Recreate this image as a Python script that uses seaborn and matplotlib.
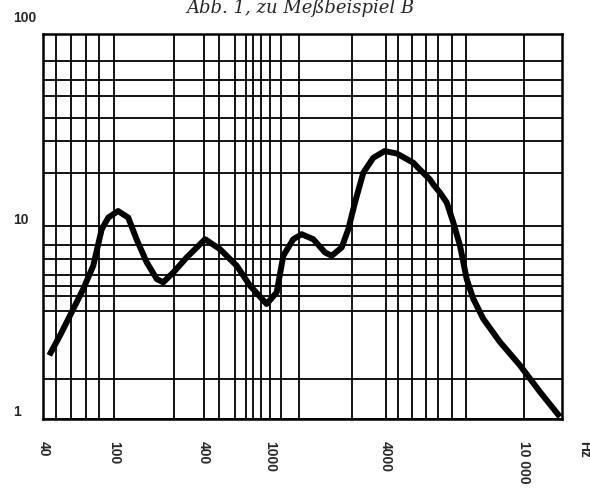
import numpy as np
import matplotlib
matplotlib.use("Agg")
import matplotlib.pyplot as plt
import seaborn as sns
from matplotlib.ticker import FixedLocator, NullFormatter
from matplotlib.transforms import ScaledTranslation

# ---- data ----
freq_hz = [43.2, 49.6, 57.7, 67.0, 76.2, 85.0, 92.6, 106, 124, 141, 165, 193, 213,
           249, 306, 406, 499, 629, 755, 951, 1080, 1169, 1318, 1458, 1676, 1929,
           2091, 2358, 2552, 2766, 3057, 3446, 3950, 4304, 4800, 5016, 5362, 5478,
           5727, 5987, 6255, 6539, 6834, 7139, 7624, 8514, 9717, 11094, 12660]
level = [2.13, 2.70, 3.57, 4.72, 6.23, 9.65, 11.1, 12.0, 11.1, 8.56, 6.49, 5.31, 5.11,
         5.75, 6.88, 8.56, 7.60, 6.23, 4.91, 3.94, 4.53, 7.02, 8.56, 9.09, 8.56, 7.31,
         7.02, 7.76, 9.65, 13.3, 19.0, 22.7, 24.6, 23.9, 21.4, 19.7, 17.5, 16.5,
         14.95, 13.3, 10.45, 7.91, 5.31, 4.19, 3.30, 2.50, 1.89, 1.375, 1.02]

x_tick_values = [40, 100, 400, 1000, 4000, 10000]
x_tick_labels = ["40", "100", "400", "1000", "4000", "10 000"]
y_tick_values = [1, 10, 100]
y_tick_labels = ["1", "10", "100"]

# irregular printed grid of the form
x_grid_hz = [47, 57, 69, 82, 253, 490, 610, 715, 790, 875, 1140, 1420, 2680,
             4350, 4770, 5220, 5660, 6190, 6790]
y_grid_values = [72, 57.3, 47.7, 36.6, 27.7, 19.0, 8.0, 6.75, 5.57, 4.87, 4.32,
                 3.64, 1.61]

# the printed frequency axis is not a true log axis: piecewise log scale
scale_hz = [40, 100, 400, 1000, 4000, 10000]
scale_pos = [0, 71, 160.7, 227, 342.4, 481]
x_max_hz = 12857


def _pw(x, xp, fp):
    x = np.asarray(x, dtype=float)
    y = np.interp(x, xp, fp)
    s0 = (fp[1] - fp[0]) / (xp[1] - xp[0])
    s1 = (fp[-1] - fp[-2]) / (xp[-1] - xp[-2])
    y = np.where(x < xp[0], fp[0] + (x - xp[0]) * s0, y)
    y = np.where(x > xp[-1], fp[-1] + (x - xp[-1]) * s1, y)
    return y


_log_a = list(np.log10(scale_hz))


def fwd(f):
    return _pw(np.log10(np.maximum(np.asarray(f, dtype=float), 1e-12)), _log_a, scale_pos)


def inv(p):
    return 10 ** _pw(p, scale_pos, _log_a)


sns.set_theme(style="white")
plt.rcParams["font.family"] = ["Liberation Sans", "DejaVu Sans"]

fig = plt.figure(figsize=(5.9, 4.88), dpi=100)
ax = fig.add_axes([43.3 / 590, 1 - 418.5 / 488, (562.3 - 43.3) / 590, (418.5 - 34) / 488])

sns.lineplot(x=freq_hz, y=level, sort=False, estimator=None, color="black",
             linewidth=4.3, ax=ax, zorder=5)
ax.lines[-1].set_solid_capstyle("butt")
ax.lines[-1].set_solid_joinstyle("round")

ax.set_xscale("function", functions=(fwd, inv))
ax.set_yscale("log")
ax.set_xlim(40, x_max_hz)
ax.set_ylim(1, 100)

ax.xaxis.set_major_locator(FixedLocator(x_tick_values))
ax.set_xticklabels(x_tick_labels)
ax.xaxis.set_minor_locator(FixedLocator(x_grid_hz))
ax.xaxis.set_minor_formatter(NullFormatter())
ax.yaxis.set_major_locator(FixedLocator(y_tick_values))
ax.set_yticklabels(y_tick_labels)
ax.yaxis.set_minor_locator(FixedLocator(y_grid_values))
ax.yaxis.set_minor_formatter(NullFormatter())

ax.grid(which="both", axis="both", color="black", linewidth=1.3)
ax.set_axisbelow(True)
ax.tick_params(which="both", length=0)
ax.tick_params(axis="x", which="major", pad=16, labelsize=10)
ax.tick_params(axis="y", which="major", pad=21.8, labelsize=10)

for lab in ax.get_xticklabels():
    lab.set_rotation(-90)
    lab.set_fontweight("bold")
    lab.set_ha("center")
    lab.set_va("top")

y_offsets_px = {"1": 8.5, "10": 8, "100": 17}
for lab in ax.get_yticklabels():
    lab.set_fontweight("bold")
    lab.set_ha("left")
    dy = y_offsets_px.get(lab.get_text(), 0) / 100
    lab.set_transform(lab.get_transform() + ScaledTranslation(0, dy, fig.dpi_scale_trans))

for sp in ax.spines.values():
    sp.set_visible(True)
    sp.set_color("black")
    sp.set_linewidth(1.8)

fig.text(300.5 / 590, 1 - 13 / 488, "Abb. 1, zu Meßbeispiel B", family="DejaVu Serif",
         style="italic", fontsize=13, ha="center", va="baseline")
fig.text(584 / 590, 1 - 441 / 488, "Hz", rotation=-90, ha="center", va="top",
         fontweight="bold", fontsize=10)

fig.savefig("out.png", dpi=100, facecolor="white")
